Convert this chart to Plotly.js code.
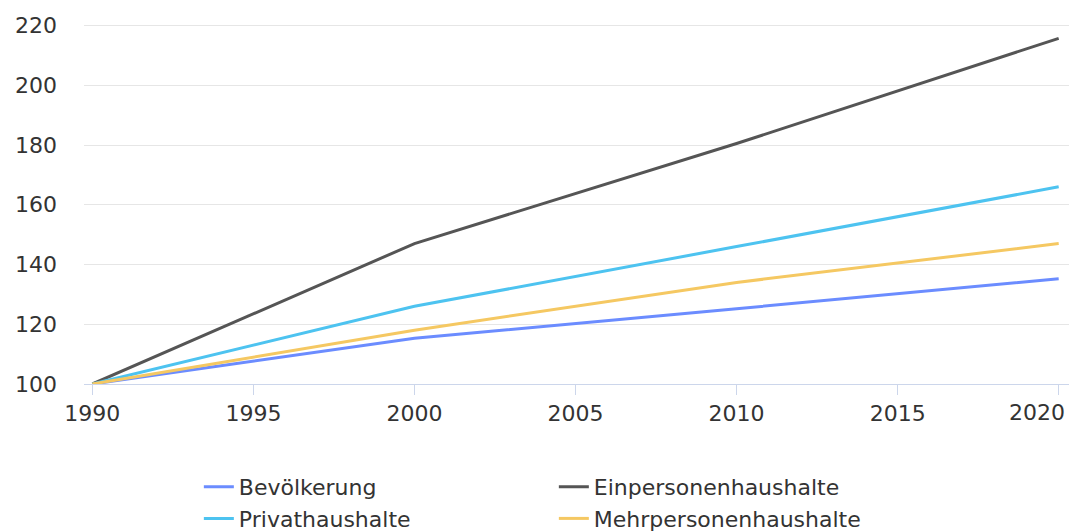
<!DOCTYPE html>
<html>
<head>
<meta charset="utf-8">
<script src="https://cdn.plot.ly/plotly-3.0.1.min.js"></script>
<style>html,body{margin:0;padding:0;background:#fff;}#chart{width:1078px;height:531px;}</style>
</head>
<body>
<div id="chart"></div>
<script>
var years = [1990, 2000, 2010, 2020];
var bevoelkerung = [100, 115.3, 125.2, 135.2];
var einpersonen = [100, 147, 180.5, 215.7];
var privathaushalte = [100, 126, 146, 166];
var mehrpersonen = [100, 118, 134, 147];
var seriesNames = ["Bevölkerung", "Einpersonenhaushalte", "Privathaushalte", "Mehrpersonenhaushalte"];
var seriesData = [bevoelkerung, einpersonen, privathaushalte, mehrpersonen];
var seriesColors = ["#6b8cff", "#555555", "#4dc3f0", "#f5c862"];
var xTicks = [1990, 1995, 2000, 2005, 2010, 2015, 2020];
var yTicks = [100, 120, 140, 160, 180, 200, 220];

var traces = seriesNames.map(function(n, i){
  return {x: years, y: seriesData[i], name: n, type: 'scatter', mode: 'lines',
    line: {color: seriesColors[i], width: 3}};
});
var font = "DejaVu Sans, sans-serif";
var fsize = 22;
var lastTick = xTicks[xTicks.length - 1];
var xTickText = xTicks.map(function(v){ return v === lastTick ? '' : String(v); });
var layout = {
  width: 1078, height: 531,
  margin: {l: 84, r: 9, t: 24, b: 147, autoexpand: false},
  paper_bgcolor: '#fff', plot_bgcolor: '#fff',
  font: {family: font, size: fsize, color: '#333'},
  showlegend: true,
  xaxis: {range: [1989.74, 2020.32], tickvals: xTicks, ticktext: xTickText, showgrid: false, zeroline: false,
    showline: true, linecolor: '#ccd6eb', linewidth: 1, ticks: 'outside', ticklen: 10,
    tickcolor: '#ccd6eb', tickfont: {size: fsize, color: '#333'}, ticklabeloverflow: 'allow'},
  yaxis: {range: [100, 220.5], tickvals: yTicks, showgrid: true, gridcolor: '#e6e6e6', gridwidth: 1,
    zeroline: false, showline: false, ticks: '', ticklabelstandoff: 26,
    tickfont: {size: fsize, color: '#333'}},
  annotations: [{x: lastTick, xref: 'x', y: 0, yref: 'paper', yanchor: 'top', xanchor: 'right',
    text: String(lastTick), showarrow: false, xshift: 8, yshift: -14,
    font: {family: font, size: fsize, color: '#333'}}],
  legend: {orientation: 'h', x: 0.477, xanchor: 'center', y: 0.1224, yref: 'container', yanchor: 'top',
    entrywidth: 310, entrywidthmode: 'pixels', font: {size: fsize, color: '#333'},
    traceorder: 'normal', itemwidth: 30, tracegroupgap: 0}
};
Plotly.newPlot('chart', traces, layout, {displayModeBar: false, staticPlot: true});
</script>
</body>
</html>
